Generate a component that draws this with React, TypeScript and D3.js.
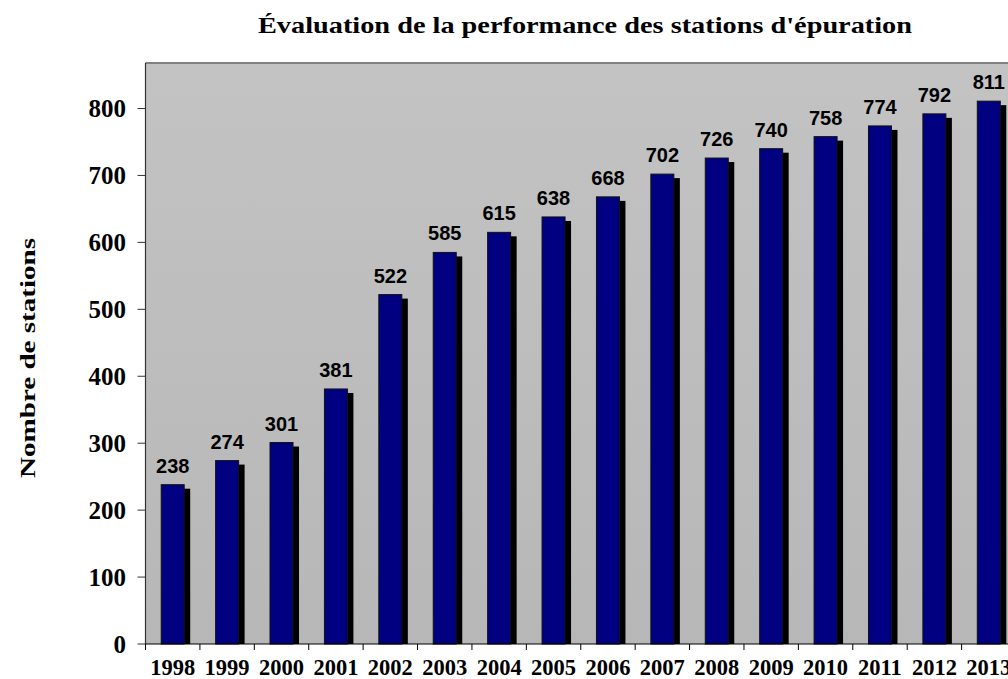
import * as d3 from 'd3';
import React, { useEffect, useRef } from 'react';

const years = ['1998', '1999', '2000', '2001', '2002', '2003', '2004', '2005',
  '2006', '2007', '2008', '2009', '2010', '2011', '2012', '2013'];
const stations = [238, 274, 301, 381, 522, 585, 615, 638, 668, 702, 726, 740, 758, 774, 792, 811];
const yTicks = [0, 100, 200, 300, 400, 500, 600, 700, 800];

const title = "Évaluation de la performance des stations d'épuration";
const yTitle = 'Nombre de stations';

export default function App() {
  const ref = useRef<SVGSVGElement>(null);

  useEffect(() => {
    const svg = d3.select(ref.current);
    svg.selectAll('*').remove();

    const width = 1008, height = 679;
    const margin = { top: 63, left: 145.5, bottom: 35, right: -8 };
    const bottom = height - margin.bottom;
    const right = width - margin.right;

    const x = d3.scaleBand()
      .domain(years)
      .range([margin.left, right])
      .padding(0);

    const y = d3.scaleLinear()
      .domain([0, 868])
      .range([bottom, margin.top]);

    const defs = svg.append('defs');
    const grad = defs.append('linearGradient')
      .attr('id', 'bg')
      .attr('x1', 0).attr('y1', 0).attr('x2', 0).attr('y2', 1);
    grad.append('stop').attr('offset', '0%').attr('stop-color', '#c3c3c3');
    grad.append('stop').attr('offset', '100%').attr('stop-color', '#b7b7b7');

    // plot area
    svg.append('rect')
      .attr('x', margin.left)
      .attr('y', margin.top)
      .attr('width', right - margin.left)
      .attr('height', bottom - margin.top)
      .attr('fill', 'url(#bg)');

    svg.append('line')
      .attr('x1', margin.left).attr('x2', right)
      .attr('y1', margin.top).attr('y2', margin.top)
      .attr('stroke', '#808080').attr('stroke-width', 2);

    const bw = 23;
    const bx = (d: string) => x(d)! + (x.bandwidth() - bw) / 2;

    // shadows
    svg.append('g').selectAll('rect')
      .data(stations)
      .enter().append('rect')
      .attr('x', (d, i) => bx(years[i]) + 6)
      .attr('y', d => y(d) + 4)
      .attr('width', bw)
      .attr('height', d => bottom - y(d) - 4)
      .attr('fill', '#000');

    // bars
    svg.append('g').selectAll('rect')
      .data(stations)
      .enter().append('rect')
      .attr('x', (d, i) => bx(years[i]))
      .attr('y', d => y(d))
      .attr('width', bw)
      .attr('height', d => bottom - y(d))
      .attr('fill', '#000080')
      .attr('stroke', '#111')
      .attr('stroke-width', 1);

    // value labels
    svg.append('g').selectAll('text')
      .data(stations)
      .enter().append('text')
      .attr('x', (d, i) => bx(years[i]) + bw / 2)
      .attr('y', d => y(d) - 12)
      .attr('text-anchor', 'middle')
      .attr('font-family', '"Liberation Sans", Arial, sans-serif')
      .attr('font-weight', 'bold')
      .attr('font-size', 20)
      .attr('fill', '#000')
      .text(d => d);

    // y axis
    const yAxis = svg.append('g');
    yAxis.append('line')
      .attr('x1', margin.left).attr('x2', margin.left)
      .attr('y1', margin.top).attr('y2', bottom)
      .attr('stroke', '#333').attr('stroke-width', 1.2);
    yAxis.selectAll('line.tick')
      .data(yTicks)
      .enter().append('line')
      .attr('class', 'tick')
      .attr('x1', margin.left - 8).attr('x2', margin.left)
      .attr('y1', d => y(d)).attr('y2', d => y(d))
      .attr('stroke', '#333');
    yAxis.selectAll('text')
      .data(yTicks)
      .enter().append('text')
      .attr('x', 126)
      .attr('y', d => y(d))
      .attr('dy', '0.34em')
      .attr('text-anchor', 'end')
      .attr('font-family', '"Liberation Serif", "Times New Roman", serif')
      .attr('font-weight', 'bold')
      .attr('font-size', 25)
      .text(d => d);

    // x axis
    const xAxis = svg.append('g');
    xAxis.append('line')
      .attr('x1', margin.left).attr('x2', right)
      .attr('y1', bottom).attr('y2', bottom)
      .attr('stroke', '#000').attr('stroke-width', 1.2);
    xAxis.selectAll('line.tick')
      .data(years.concat(['end']))
      .enter().append('line')
      .attr('class', 'tick')
      .attr('x1', d => d === 'end' ? right : x(d)!)
      .attr('x2', d => d === 'end' ? right : x(d)!)
      .attr('y1', bottom).attr('y2', bottom + 6)
      .attr('stroke', '#000');
    xAxis.selectAll('text')
      .data(years)
      .enter().append('text')
      .attr('x', d => x(d)! + x.bandwidth() / 2)
      .attr('y', bottom + 31)
      .attr('text-anchor', 'middle')
      .attr('font-family', '"Liberation Serif", "Times New Roman", serif')
      .attr('font-weight', 'bold')
      .attr('font-size', 22.5)
      .text(d => d);

    // titles
    svg.append('text')
      .attr('x', 585)
      .attr('y', 33)
      .attr('text-anchor', 'middle')
      .attr('font-family', '"Liberation Serif", "Times New Roman", serif')
      .attr('font-weight', 'bold')
      .attr('font-size', 24)
      .attr('textLength', 654)
      .attr('lengthAdjust', 'spacingAndGlyphs')
      .text(title);

    svg.append('text')
      .attr('transform', 'translate(35,358) rotate(-90)')
      .attr('text-anchor', 'middle')
      .attr('font-family', '"Liberation Serif", "Times New Roman", serif')
      .attr('font-weight', 'bold')
      .attr('font-size', 21)
      .attr('textLength', 240)
      .attr('lengthAdjust', 'spacingAndGlyphs')
      .text(yTitle);
  }, []);

  return (
    <svg ref={ref} width={1008} height={679}
      style={{ position: 'absolute', left: 0, top: 0, background: '#fff' }} />
  );
}
